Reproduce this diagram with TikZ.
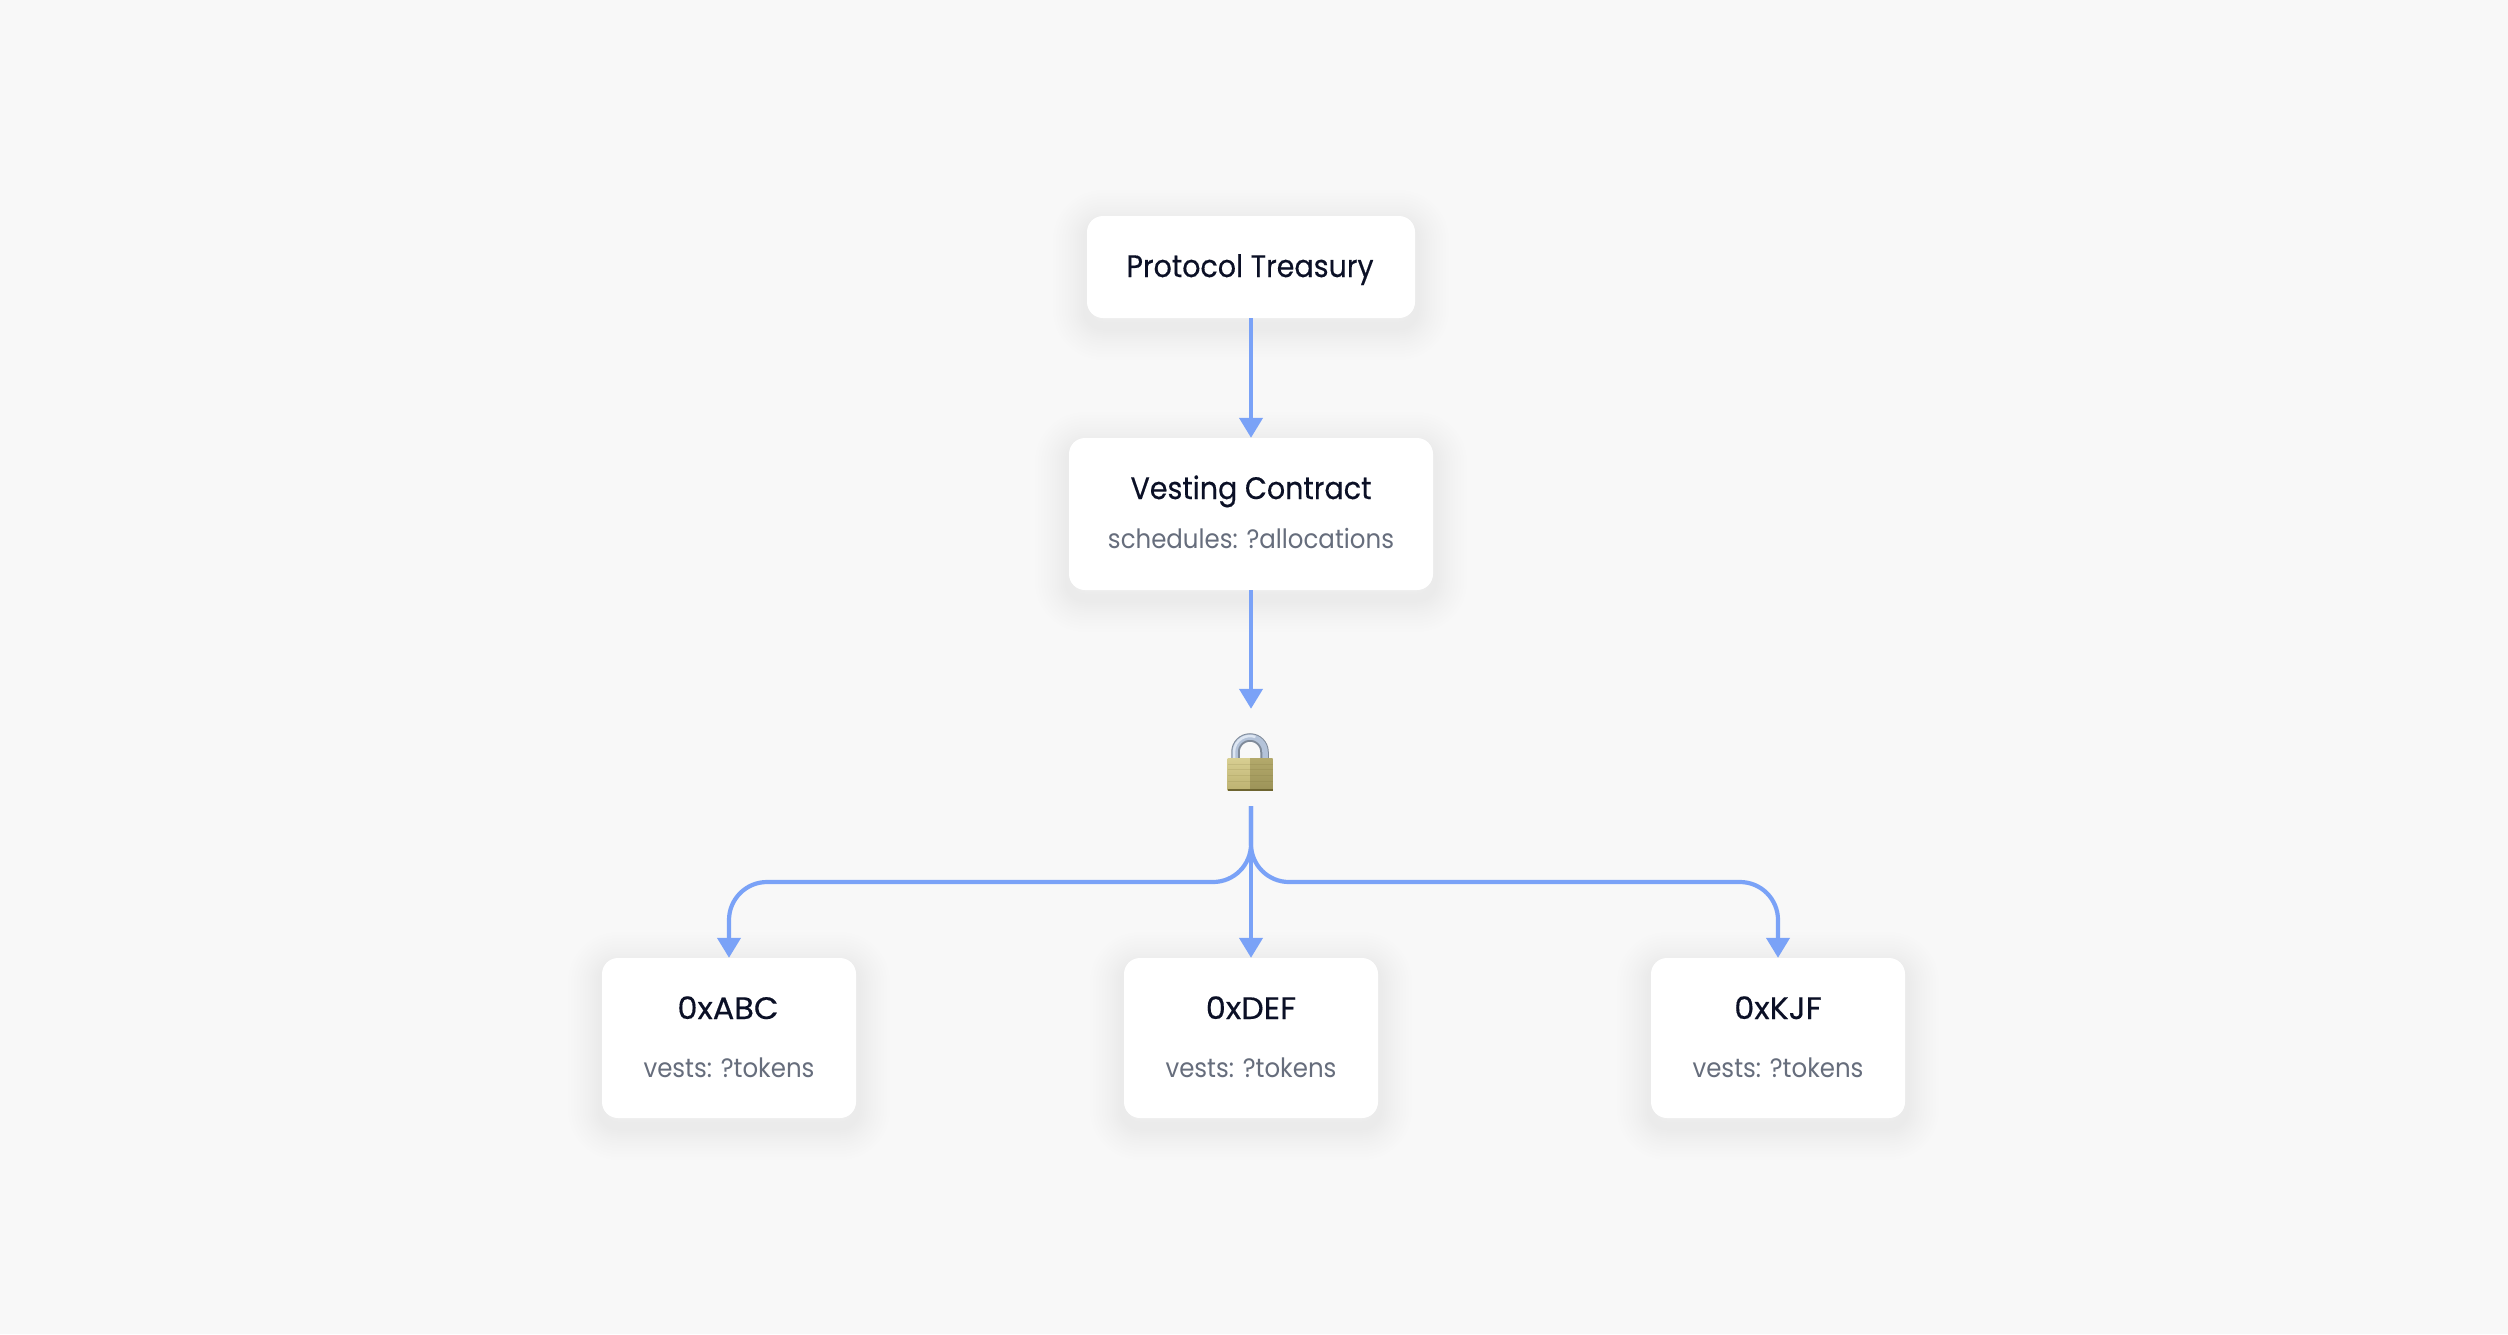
\documentclass[tikz,border=0pt]{standalone}
\usepackage{fontspec}
\setmainfont{Poppins}
\newfontfamily\titlefont[FakeStretch=0.92,FakeBold=0.35]{Poppins}
\newfontfamily\addrfont[FakeStretch=1.03,FakeBold=0.35]{Poppins}
\newfontfamily\subfont[FakeStretch=0.92]{Poppins}
\usetikzlibrary{arrows.meta,shadings}
\definecolor{pagebg}{HTML}{F8F8F8}
\definecolor{flowblue}{HTML}{7AA2F7}
\definecolor{inkdark}{HTML}{0B1026}
\definecolor{inkgrey}{HTML}{666D7C}
\definecolor{steeldark}{HTML}{7F8A99}
\definecolor{steelmid}{HTML}{B4C3D9}
\definecolor{steellight}{HTML}{DDE6F2}
\definecolor{brassA}{HTML}{D8CF92}
\definecolor{brassB}{HTML}{BDB271}
\definecolor{brassC}{HTML}{B3A96B}
\definecolor{brassD}{HTML}{9C9358}
\definecolor{brassE}{HTML}{6E6530}
\tikzset{
  shadowlayer/.style={preaction={draw=black,draw opacity=0.0036,fill=none,line width=#1pt,transform canvas={yshift=-8pt}}},
  card/.style={rectangle,rounded corners=16pt,fill=white,draw=none,inner sep=0pt,
    shadowlayer=68,shadowlayer=62,shadowlayer=56,shadowlayer=50,shadowlayer=44,shadowlayer=39,shadowlayer=34,shadowlayer=29,
    shadowlayer=25,shadowlayer=21,shadowlayer=17,shadowlayer=13,shadowlayer=9},
  flow/.style={draw=flowblue,line width=4.2pt,-{Triangle[length=20pt,width=23pt]}},
  titletext/.style={anchor=base,inner sep=0pt,text=inkdark,font=\titlefont\fontsize{31}{36}\selectfont},
  addrtext/.style={anchor=base,inner sep=0pt,text=inkdark,font=\addrfont\fontsize{31}{36}\selectfont},
  subtext/.style={anchor=base,inner sep=0pt,text=inkgrey,font=\subfont\fontsize{26.6}{31}\selectfont},
  lockslot/.style={rectangle,draw=none,inner sep=0pt,minimum width=46pt,minimum height=97pt}
}
\begin{document}
\begin{tikzpicture}[x=1pt,y=-1pt]
\fill[pagebg] (0,0) rectangle (2508,1334);
\useasboundingbox (0,0) rectangle (2508,1334);
% cards
\node[card,minimum width=328pt,minimum height=102pt] (treasury) at (1251,267) {};
\node[card,minimum width=364pt,minimum height=152pt] (vesting) at (1251,514) {};
\node[card,minimum width=254pt,minimum height=160pt] (abc) at (729,1038) {};
\node[card,minimum width=254pt,minimum height=160pt] (def) at (1251,1038) {};
\node[card,minimum width=254pt,minimum height=160pt] (kjf) at (1778,1038) {};
% texts
\node[titletext] (treasuryT) at (1250,277) {Protocol Treasury};
\node[titletext] (vestingT) at (1251,499) {Vesting Contract};
\node[subtext] (vestingS) at (1251,548.5) {schedules: ?allocations};
\node[addrtext] (abcT) at (728,1019) {0xABC};
\node[subtext] (abcS) at (729,1077) {vests: ?tokens};
\node[addrtext] (defT) at (1251,1019) {0xDEF};
\node[subtext] (defS) at (1251,1077) {vests: ?tokens};
\node[addrtext] (kjfT) at (1778,1019) {0xKJF};
\node[subtext] (kjfS) at (1778,1077) {vests: ?tokens};
% lock slot
\node[lockslot] (lock) at (1251,757.5) {};
% shackle
\draw[line width=8.5pt,steeldark] (1235.5,760) -- (1235.5,752) arc[start angle=180,end angle=0,x radius=14.5pt,y radius=14.5pt] -- (1264.5,760);
\draw[line width=5.5pt,steelmid] (1235,760) -- (1235,752) arc[start angle=180,end angle=0,x radius=15pt,y radius=15pt] -- (1265,760);
\draw[line width=2.5pt,steellight] (1234,760) -- (1234,752) arc[start angle=180,end angle=70,x radius=16pt,y radius=16pt];
% body
\shade[top color=brassA,bottom color=brassB] (1227.5,758) rectangle (1250,790);
\shade[top color=brassC,bottom color=brassD] (1250,758) rectangle (1272.5,790);
\foreach \yy in {764,769,775,781}{
  \draw[line width=0.8pt,brassE,opacity=0.14] (1227.5,\yy) -- (1272.5,\yy);
}
\fill[brassE] (1227.5,789) rectangle (1272.5,791);
% connectors
\coordinate (bus) at (1251,882);
\draw[flow] (treasury.south) -- (vesting.north);
\draw[flow] (vesting.south) -- (lock.north);
\draw[flow] (lock.south) -- (def.north);
\draw[flow,rounded corners=38pt] (lock.south) -- (bus) -| (abc.north);
\draw[flow,rounded corners=38pt] (lock.south) -- (bus) -| (kjf.north);
\end{tikzpicture}
\end{document}
